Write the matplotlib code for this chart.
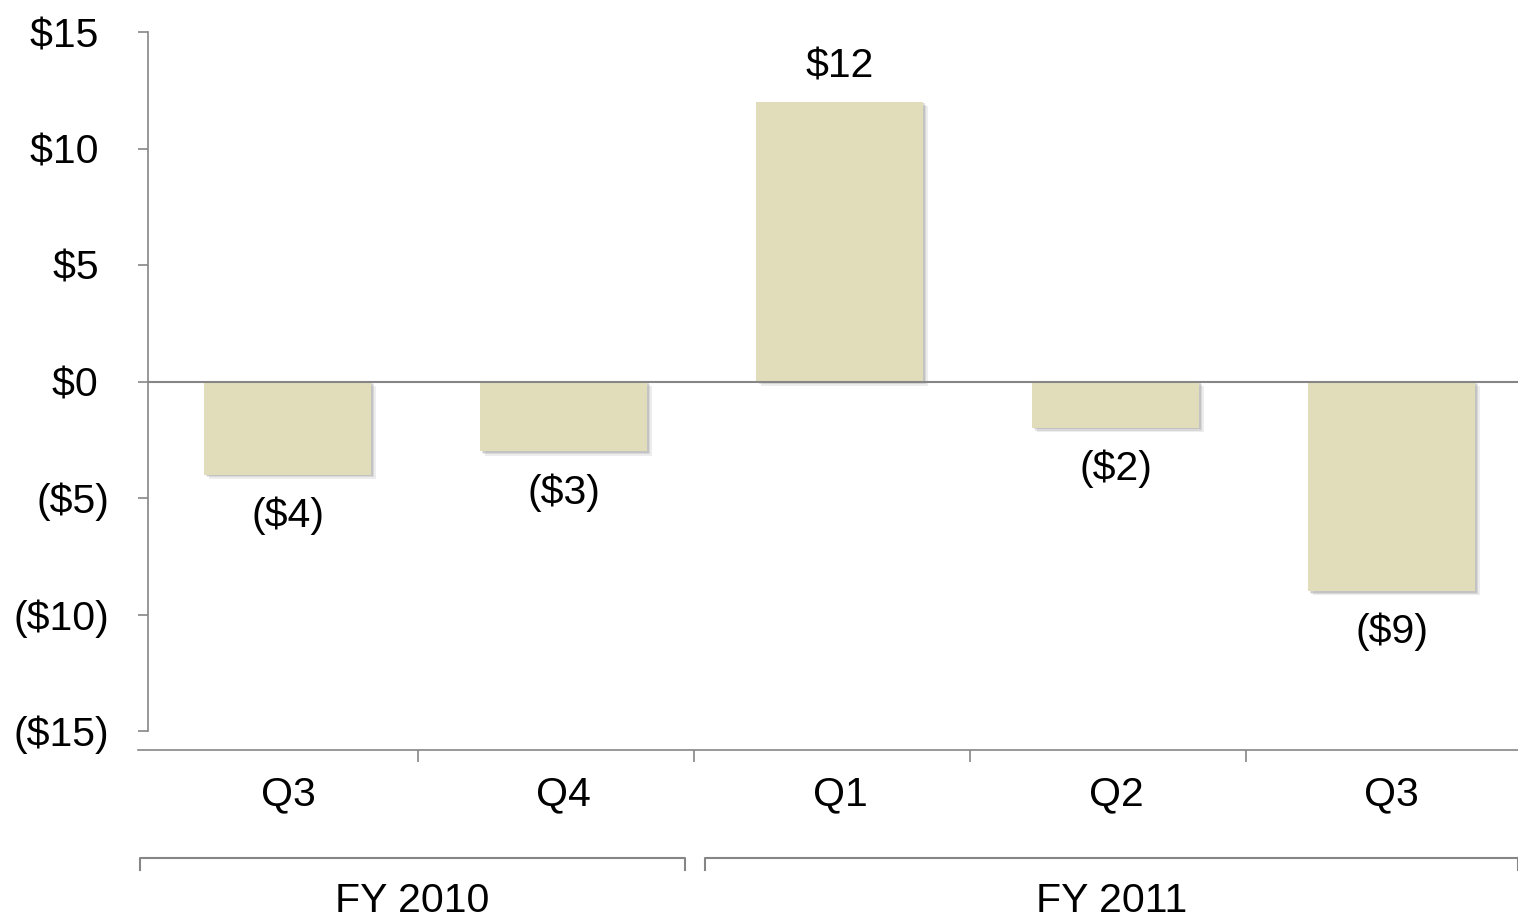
import matplotlib.pyplot as plt
import matplotlib.patheffects as pe
import numpy as np

plt.rcParams['font.family'] = ['Liberation Sans', 'DejaVu Sans']

# data
quarters = ['Q3', 'Q4', 'Q1', 'Q2', 'Q3']
values = [-4, -3, 12, -2, -9]
groups = ['FY 2010', 'FY 2011']
group_spans = [(0, 1), (2, 4)]
yticks = [-15, -10, -5, 0, 5, 10, 15]

bar_color = '#E1DDBB'
line_color = '#868686'
fs = 29.5


def money(v):
    if v < 0:
        return '(${:d})'.format(-v)
    return '${:d} '.format(v)


fig = plt.figure(figsize=(15.18, 9.17), dpi=100)
ax = fig.add_axes([148 / 1518, 1 - 731 / 917, 1 - 148 / 1518, 699 / 917])

x = np.arange(len(values))
bars = ax.bar(x, values, width=0.605, color=bar_color, zorder=2)
# soft drop shadow like the original
for b in bars:
    b.set_path_effects([pe.SimplePatchShadow(offset=(3, -3), shadow_rgbFace='#888888', alpha=0.15),
                        pe.SimplePatchShadow(offset=(2, -2), shadow_rgbFace='#888888', alpha=0.2),
                        pe.SimplePatchShadow(offset=(1, -1), shadow_rgbFace='#888888', alpha=0.25),
                        pe.Normal()])

ax.axhline(0, color=line_color, lw=1.5, zorder=3)

# value labels
for xi, v in zip(x, values):
    if v >= 0:
        ax.annotate(money(v).strip(), (xi, v), xytext=(0, 25.5), textcoords='offset points',
                    ha='center', va='center', fontsize=fs)
    else:
        ax.annotate(money(v), (xi, v), xytext=(0, -29.5), textcoords='offset points',
                    ha='center', va='center', fontsize=fs)

ax.set_xlim(-0.507, 4.457)
ax.set_ylim(-15, 15)

# y axis
ax.set_yticks(yticks)
ax.set_yticklabels([money(t) for t in yticks], fontsize=fs)
ax.tick_params(axis='y', direction='out', length=7.2, width=1.2, color=line_color, pad=20.5)
ax.spines['left'].set_color(line_color)
ax.spines['left'].set_linewidth(1.2)

# category axis below the plot
ax.spines['bottom'].set_position(('outward', 13.7))
ax.spines['bottom'].set_bounds(-0.543, 4.457)
ax.spines['bottom'].set_color(line_color)
ax.spines['bottom'].set_linewidth(1.2)
ax.set_xticks(x)
ax.set_xticklabels(quarters, fontsize=fs)
ax.set_xticks(x[:-1] + 0.47, minor=True)
ax.tick_params(axis='x', which='major', length=0, pad=18.5)
ax.tick_params(axis='x', which='minor', direction='out', length=8.6, width=1.2, color=line_color)

ax.spines['top'].set_visible(False)
ax.spines['right'].set_visible(False)

# fiscal-year brackets
bracket_y = -20.47
bracket_end = -20.95
for name, (a, b) in zip(groups, group_spans):
    left = a - 0.5 + 0.011 if a > 0 else -0.536
    right = b + 0.5 - 0.061 if b < len(values) - 1 else 4.457
    ax.plot([left, left, right, right], [bracket_end, bracket_y, bracket_y, bracket_end],
            color=line_color, lw=1.5, clip_on=False)
    ax.text((left + right) / 2, -22.3, name, ha='center', va='center', fontsize=fs)

plt.savefig('out.png', dpi=100)
